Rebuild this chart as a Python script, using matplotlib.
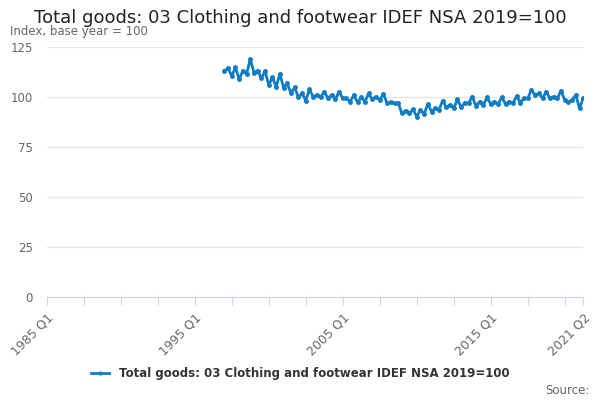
import matplotlib.pyplot as plt
import numpy as np

# Quarterly series, 1985 Q1 .. 2021 Q2 (index 0..145); data starts 1997 Q1 (index 48)
START_IDX = 48
values = [
    113.2, 114.3, 110.5, 114.8, 108.8, 113.2, 111.5, 119.0, 112.2, 113.2,
    109.3, 113.0, 106.0, 109.8, 105.2, 111.5, 104.7, 106.8, 101.8, 104.8,
    99.8, 101.8, 98.2, 103.8, 100.2, 101.0, 99.8, 102.7, 99.3, 101.0,
    98.8, 102.7, 99.3, 99.3, 97.7, 101.0, 97.3, 99.8, 97.7, 101.8,
    98.8, 100.2, 98.5, 101.5, 96.8, 97.3, 96.8, 96.8, 91.8, 93.2,
    91.8, 93.8, 90.2, 93.5, 91.5, 96.5, 92.7, 94.3, 93.5, 98.2,
    94.8, 96.0, 94.3, 98.8, 94.8, 97.2, 96.8, 100.2, 95.5, 97.7,
    96.0, 99.8, 96.5, 97.7, 96.5, 99.8, 96.5, 97.7, 96.8, 100.5,
    97.2, 99.3, 99.3, 103.5, 101.0, 101.8, 99.3, 102.7, 99.3, 100.2,
    99.3, 103.2, 98.5, 97.7, 98.5, 101.0, 94.3, 99.3,
]
N_QUARTERS = 146
tick_labels = {0: '1985 Q1', 40: '1995 Q1', 80: '2005 Q1', 120: '2015 Q1', 145: '2021 Q2'}
y_ticks = [0, 25, 50, 75, 100, 125]

TITLE = 'Total goods: 03 Clothing and footwear IDEF NSA 2019=100'
BLUE = '#0f7cc4'
GREY = '#666666'

fig = plt.figure(figsize=(6, 4), dpi=100)
ax = fig.add_axes([0.078, 0.2575, 0.894, 0.625])

xs = np.arange(START_IDX, START_IDX + len(values))
ax.plot(xs, values, color=BLUE, lw=2, marker='o', ms=2.5, label=TITLE)

ax.set_xlim(0, N_QUARTERS - 1)
ax.set_ylim(0, 125)
ax.set_yticks(y_ticks)
ax.yaxis.grid(True, color='#e6e6e6', lw=1)
ax.set_axisbelow(True)
ax.tick_params(axis='y', length=0, labelsize=8.5, labelcolor=GREY, pad=10)

major = list(range(0, N_QUARTERS, 10)) + [N_QUARTERS - 1]
ax.set_xticks(major)
ax.set_xticklabels([tick_labels.get(i, '') for i in major], rotation=45,
                   ha='right', rotation_mode='anchor', fontsize=9, color=GREY)
ax.tick_params(axis='x', length=6, color='#ccd6eb', direction='out', pad=4)

for side in ['top', 'right', 'left']:
    ax.spines[side].set_visible(False)
ax.spines['bottom'].set_color('#ccd6eb')

fig.text(0.5, 0.955, TITLE, ha='center', va='center', fontsize=13, color='#222222')
fig.text(0.017, 0.92, 'Index, base year = 100', ha='left', va='center', fontsize=8.5, color=GREY)
fig.text(0.982, 0.025, 'Source:', ha='right', va='center', fontsize=8.5, color=GREY)

leg = fig.legend(loc='center', bbox_to_anchor=(0.5, 0.067), frameon=False,
                 fontsize=8.5, handlelength=1.6, markerscale=0.8)
for t in leg.get_texts():
    t.set_fontweight('bold')
    t.set_color('#333333')

fig.savefig('out.png', dpi=100)
